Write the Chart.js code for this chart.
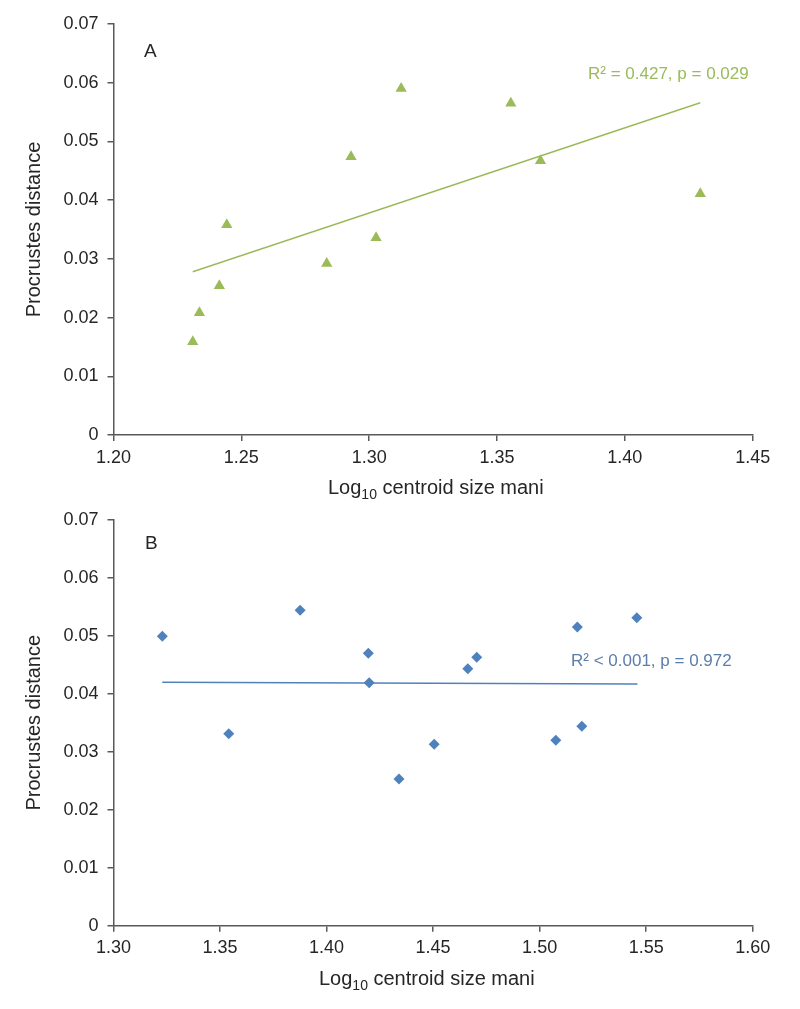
<!DOCTYPE html>
<html><head><meta charset="utf-8">
<script src="https://cdn.jsdelivr.net/npm/chart.js@4/dist/chart.umd.min.js"></script>
<style>body{margin:0;background:#fff;} canvas{position:absolute;left:0;}</style>
</head><body>
<canvas id="cA" width="800" height="500" style="top:0px"></canvas>
<canvas id="cB" width="800" height="509" style="top:500px"></canvas>
<script>
// Panel A data
const sizeA = [1.2310, 1.2336, 1.2414, 1.2443, 1.2834, 1.2929, 1.3027, 1.3125, 1.3554, 1.3670, 1.4295];
const distA = [0.0159, 0.0208, 0.0254, 0.0358, 0.0292, 0.0474, 0.0336, 0.0590, 0.0565, 0.0467, 0.0411];
const trendSizeA = [1.2310, 1.4295];
const trendDistA = [0.0278, 0.0566];
const xTickLabelsA = ['1.20', '1.25', '1.30', '1.35', '1.40', '1.45'];
// Panel B data
const sizeB = [1.3229, 1.3541, 1.3876, 1.4196, 1.4200, 1.4340, 1.4505, 1.4663, 1.4705, 1.5076, 1.5177, 1.5198, 1.5456];
const distB = [0.0499, 0.0331, 0.0544, 0.0470, 0.0419, 0.0253, 0.0313, 0.0443, 0.0463, 0.0320, 0.0515, 0.0344, 0.0531];
const trendSizeB = [1.3229, 1.5459];
const trendDistB = [0.0420, 0.0417];
const xTickLabelsB = ['1.30', '1.35', '1.40', '1.45', '1.50', '1.55', '1.60'];
// shared
const yTickLabels = ['0', '0.01', '0.02', '0.03', '0.04', '0.05', '0.06', '0.07'];
const yTitle = 'Procrustes distance';
const xTitleParts = ['Log', '10', ' centroid size mani'];

const FONT = '"Liberation Sans", Arial, sans-serif';
const AXIS = '#595959';
const TEXT = '#262626';

function makeChart(id, cfg) {
  const pts = cfg.xs.map((x, i) => ({x: x, y: cfg.ys[i]}));
  const tr = cfg.tx.map((x, i) => ({x: x, y: cfg.ty[i]}));
  const overlay = {
    id: 'overlay',
    afterDraw(chart) {
      const ctx = chart.ctx;
      ctx.save();
      ctx.fillStyle = TEXT;
      ctx.textBaseline = 'alphabetic';
      ctx.textAlign = 'left';
      ctx.font = '19px ' + FONT;
      ctx.fillText(cfg.panel, cfg.panelPos[0], cfg.panelPos[1]);
      ctx.fillStyle = cfg.labelColor;
      ctx.font = '17px ' + FONT;
      ctx.fillText(cfg.stat, cfg.statPos[0], cfg.statPos[1]);
      // x-axis title with subscript
      ctx.fillStyle = TEXT;
      let x = cfg.xTitlePos[0], y = cfg.xTitlePos[1];
      ctx.font = '20px ' + FONT;
      ctx.fillText(xTitleParts[0], x, y);
      x += ctx.measureText(xTitleParts[0]).width;
      ctx.font = '14px ' + FONT;
      ctx.fillText(xTitleParts[1], x, y + 5);
      x += ctx.measureText(xTitleParts[1]).width;
      ctx.font = '20px ' + FONT;
      ctx.fillText(xTitleParts[2], x, y);
      ctx.restore();
    }
  };
  return new Chart(document.getElementById(id), {
    type: 'scatter',
    data: {
      datasets: [
        {data: tr, showLine: true, borderColor: cfg.color, borderWidth: 1.5, pointRadius: 0, fill: false, order: 2},
        {data: pts, pointStyle: cfg.marker, pointRadius: cfg.radius, pointBackgroundColor: cfg.color,
         pointBorderColor: cfg.color, pointBorderWidth: 0, showLine: false, order: 1}
      ]
    },
    options: {
      responsive: false,
      animation: false,
      events: [],
      layout: {padding: {left: 0, right: cfg.padRight, top: cfg.padTop, bottom: 0}},
      plugins: {legend: {display: false}, tooltip: {enabled: false}},
      scales: {
        x: {
          type: 'linear', min: cfg.xmin, max: cfg.xmax,
          afterBuildTicks(s) { s.ticks = cfg.xLabels.map(l => ({value: parseFloat(l)})); },
          afterFit(s) { s.height = cfg.xHeight; },
          grid: {drawOnChartArea: false, drawTicks: true, tickLength: 6, color: AXIS, lineWidth: 1.5},
          border: {display: true, color: AXIS, width: 1.5},
          ticks: {color: TEXT, font: {family: FONT, size: 18}, padding: 6, maxRotation: 0,
                  callback: (v, i) => cfg.xLabels[i]}
        },
        y: {
          type: 'linear', min: 0, max: 0.07,
          afterBuildTicks(s) { s.ticks = yTickLabels.map(l => ({value: parseFloat(l)})); },
          afterFit(s) { s.width = 113.5; },
          grid: {drawOnChartArea: false, drawTicks: true, tickLength: 6, color: AXIS, lineWidth: 1.5},
          border: {display: true, color: AXIS, width: 1.5},
          ticks: {color: TEXT, font: {family: FONT, size: 18}, padding: 9,
                  callback: (v, i) => yTickLabels[i]},
          title: {display: true, text: yTitle, color: TEXT, font: {family: FONT, size: 20},
                  padding: {top: 22, bottom: 0}}
        }
      }
    },
    plugins: [overlay]
  });
}

makeChart('cA', {
  xs: sizeA, ys: distA, tx: trendSizeA, ty: trendDistA, xLabels: xTickLabelsA,
  xmin: 1.20, xmax: 1.45, color: '#9BBB59', labelColor: '#9BBB59', marker: 'triangle', radius: 6.5,
  padTop: 24, padRight: 47.3, xHeight: 65,
  panel: 'A', panelPos: [144, 57], stat: 'R\u00B2 = 0.427, p = 0.029', statPos: [588, 79],
  xTitlePos: [328, 494]
});
makeChart('cB', {
  xs: sizeB, ys: distB, tx: trendSizeB, ty: trendDistB, xLabels: xTickLabelsB,
  xmin: 1.30, xmax: 1.60, color: '#4F81BD', labelColor: '#5B7DAA', marker: 'rectRot', radius: 5.5,
  padTop: 15, padRight: 47.3, xHeight: 83.3,
  panel: 'B', panelPos: [145, 49], stat: 'R\u00B2 < 0.001, p = 0.972', statPos: [571, 166],
  xTitlePos: [319, 485]
});
</script>
</body></html>
